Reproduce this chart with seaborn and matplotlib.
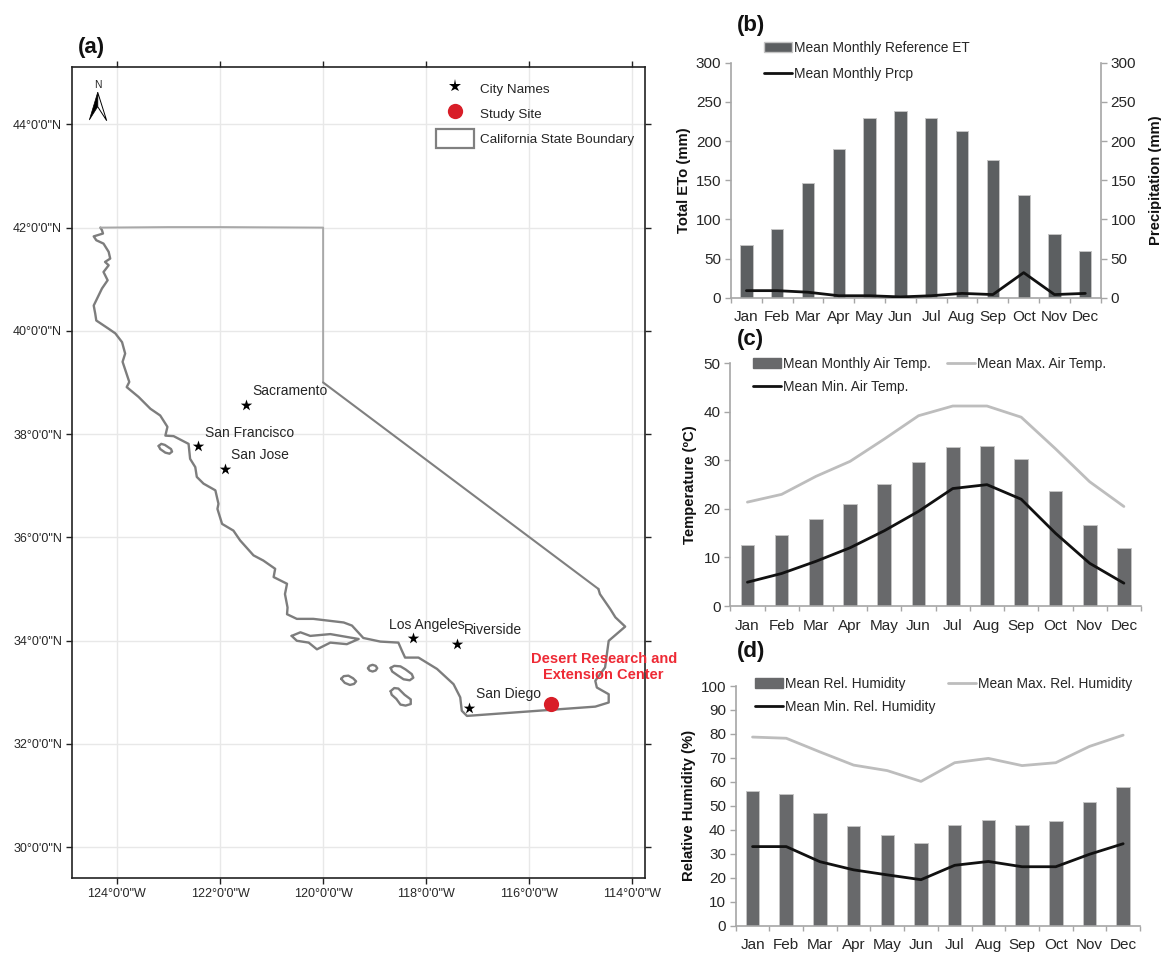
import numpy as np
import pandas as pd
import matplotlib
matplotlib.use('Agg')
import matplotlib.pyplot as plt
import seaborn as sns
from matplotlib.lines import Line2D
from matplotlib.patches import Patch, Polygon

W, H = 1161, 955

months = ['Jan', 'Feb', 'Mar', 'Apr', 'May', 'Jun', 'Jul', 'Aug', 'Sep', 'Oct', 'Nov', 'Dec']

# panel b
eto = [67, 88, 147, 190, 229, 238, 229, 213, 176, 131, 81, 60]
prcp = [9, 9, 7, 2.5, 2.5, 1, 2.5, 5.5, 4, 32, 4, 5.5]

# panel c
temp_mean = [12.5, 14.7, 18, 21.1, 25.2, 29.7, 32.8, 33, 30.2, 23.6, 16.7, 11.9]
temp_max = [21.4, 23, 26.7, 29.8, 34.4, 39.2, 41.2, 41.2, 38.9, 32.4, 25.6, 20.5]
temp_min = [4.9, 6.7, 9.2, 12, 15.5, 19.5, 24.2, 25, 22, 15, 8.8, 4.7]

# panel d
rh_mean = [56, 55, 47.2, 41.5, 38, 34.7, 42, 44.3, 42, 43.8, 51.7, 57.8]
rh_max = [78.7, 78.2, 72.5, 67, 64.7, 60.2, 68, 69.8, 66.8, 68, 74.8, 79.5]
rh_min = [33, 33, 26.7, 23.3, 21.2, 19.2, 25.2, 26.8, 24.6, 24.6, 29.8, 34.2]

# panel a, state outline in degrees
coast_lon = [-124.32, -124.29, -124.27, -124.45, -124.40, -124.26, -124.16, -124.13, -124.23, -124.16,
             -124.26, -124.18, -124.29, -124.45, -124.42, -124.40, -124.16, -124.03, -123.90, -123.84,
             -123.89, -123.76, -123.81, -123.58, -123.35, -123.16, -123.02, -123.06, -122.90, -122.61,
             -122.58, -122.48, -122.45, -122.32, -122.09, -122.03, -122.05, -121.96, -121.74, -121.61,
             -121.35, -121.16, -120.93, -120.96, -120.70, -120.74, -120.69, -120.70, -120.51, -120.19,
             -119.60, -119.44, -119.22, -118.89, -118.54, -118.47, -118.41, -118.15, -117.79, -117.47,
             -117.34, -117.31, -117.21, -114.72, -114.46, -114.46, -114.69, -114.72, -114.53, -114.46,
             -114.14, -114.33, -114.43, -114.63, -114.66]
coast_lat = [42.0, 41.95, 41.885, 41.83, 41.755, 41.69, 41.53, 41.40, 41.335, 41.27,
             41.14, 40.98, 40.82, 40.49, 40.33, 40.20, 40.04, 39.95, 39.78, 39.56,
             39.40, 39.01, 38.91, 38.72, 38.49, 38.36, 38.14, 37.97, 37.96, 37.81,
             37.52, 37.36, 37.17, 37.04, 36.91, 36.65, 36.55, 36.26, 36.13, 35.94,
             35.65, 35.55, 35.39, 35.23, 35.10, 34.90, 34.64, 34.51, 34.42, 34.42,
             34.35, 34.29, 34.05, 33.98, 33.96, 33.80, 33.67, 33.67, 33.45, 33.155,
             32.90, 32.64, 32.54, 32.72, 32.80, 32.96, 33.09, 33.22, 33.48, 33.995,
             34.27, 34.45, 34.61, 34.90, 35.0]
north_lon = [-124.32, -123.0, -122.0, -120.0, -120.0]
north_lat = [42.0, 42.01, 42.01, 42.0, 39.0]
east_lon = [-120.0, -114.66]
east_lat = [39.0, 35.0]

islands = [
    ([-123.19, -123.14, -123.07, -122.95, -122.93, -122.98, -123.06, -123.16, -123.19],
     [37.77, 37.81, 37.79, 37.71, 37.66, 37.62, 37.64, 37.71, 37.77]),
    ([-120.61, -120.44, -120.25, -119.86, -119.31, -119.54, -119.86, -120.12, -120.28, -120.51, -120.61],
     [34.09, 34.16, 34.09, 34.125, 34.03, 33.93, 33.96, 33.83, 33.96, 33.996, 34.09]),
    ([-119.13, -119.10, -119.04, -118.98, -118.95, -118.98, -119.04, -119.10, -119.13],
     [33.465, 33.51, 33.53, 33.51, 33.465, 33.42, 33.40, 33.42, 33.465]),
    ([-119.65, -119.60, -119.51, -119.42, -119.36, -119.40, -119.48, -119.58, -119.65],
     [33.26, 33.31, 33.32, 33.27, 33.21, 33.16, 33.14, 33.18, 33.26]),
    ([-118.69, -118.62, -118.50, -118.40, -118.28, -118.25, -118.32, -118.44, -118.56, -118.66, -118.69],
     [33.47, 33.51, 33.50, 33.44, 33.35, 33.28, 33.23, 33.25, 33.33, 33.40, 33.47]),
    ([-118.69, -118.62, -118.54, -118.42, -118.30, -118.30, -118.40, -118.50, -118.58, -118.67, -118.69],
     [33.02, 33.08, 33.07, 32.95, 32.86, 32.77, 32.74, 32.76, 32.87, 32.95, 33.02]),
]

cities = ['Sacramento', 'San Francisco', 'San Jose', 'Los Angeles', 'Riverside', 'San Diego']
city_lon = [-121.50, -122.43, -121.90, -118.26, -117.40, -117.17]
city_lat = [38.57, 37.76, 37.33, 34.04, 33.93, 32.70]
label_lon = [-121.38, -122.30, -121.78, -118.72, -117.27, -117.04]
label_lat = [38.83, 38.03, 37.60, 34.30, 34.21, 32.97]
site_lon = [-115.575]
site_lat = [32.78]

lon_ticks = [-124, -122, -120, -118, -116, -114]
lat_ticks = [30, 32, 34, 36, 38, 40, 42, 44]

sns.set_theme(style='white')
plt.rcParams['font.family'] = ['Liberation Sans', 'DejaVu Sans']

GREY = '#a6a6a6'
TXT = '#262626'
LEG = 9.9


def fig_xy(px, py):
    return px / W, 1 - py / H


def add_ax(left, top, right, bottom):
    return fig.add_axes([left / W, 1 - bottom / H, (right - left) / W, (bottom - top) / H])


def style_chart(ax, ylim, yticks, ylabel, label_px):
    ax.set_xlim(-0.5, 11.5)
    ax.set_ylim(*ylim)
    ax.set_yticks(yticks)
    ax.set_xticks(np.arange(12))
    ax.set_xticks(np.arange(-0.5, 12, 1), minor=True)
    ax.set_xticklabels(months)
    ax.tick_params(axis='x', which='major', length=0, pad=9, labelsize=11, labelcolor=TXT)
    ax.tick_params(axis='x', which='minor', length=3.5, width=1, color=GREY, bottom=True)
    ax.tick_params(axis='y', length=4, width=1, color=GREY, left=True, pad=3, labelsize=11, labelcolor=TXT)
    for s in ['top', 'right']:
        ax.spines[s].set_visible(False)
    for s in ['left', 'bottom']:
        ax.spines[s].set_color(GREY)
        ax.spines[s].set_linewidth(1.2)
    ax.set_xlabel('')
    ax.set_ylabel(ylabel, fontsize=10.7, fontweight='bold', color='#111111')
    bb = ax.get_position()
    ax.yaxis.set_label_coords((label_px / W - bb.x0) / bb.width, 0.5)


def bars(ax, values, color):
    sns.barplot(x=months, y=values, ax=ax, color=color, width=0.4, saturation=1,
                edgecolor='#c4c4c4', linewidth=0.7)


def line(ax, values, color):
    df = pd.DataFrame({'month': months, 'value': values})
    sns.lineplot(data=df, x='month', y='value', ax=ax, color=color, linewidth=2, sort=False, legend=False)


def outline(ax, lon, lat, color, lw):
    sns.lineplot(x=lon, y=lat, ax=ax, color=color, linewidth=lw, sort=False, estimator=None,
                 solid_joinstyle='round', solid_capstyle='round')


fig = plt.figure(figsize=(W / 100, H / 100), dpi=100)

# (a) map
ax_a = add_ax(71.7, 66.7, 645.3, 878)
outline(ax_a, coast_lon, coast_lat, '#7d7d7d', 1.7)
outline(ax_a, north_lon, north_lat, '#a8a8a8', 1.4)
outline(ax_a, east_lon, east_lat, '#808080', 1.5)
for isl_lon, isl_lat in islands:
    outline(ax_a, isl_lon, isl_lat, '#7d7d7d', 1.7)
sns.scatterplot(x=city_lon, y=city_lat, ax=ax_a, marker='*', s=75, color='black', linewidth=0, zorder=5)
sns.scatterplot(x=site_lon, y=site_lat, ax=ax_a, marker='o', s=120, color='#d81e28', linewidth=0, zorder=5)
for name, x, y in zip(cities, label_lon, label_lat):
    ax_a.text(x, y, name, fontsize=10, color=TXT, va='center', ha='left', zorder=6)
ax_a.text(-114.557, 33.49, 'Desert Research and\nExtension Center', fontsize=10.5, fontweight='bold',
          color='#ee2a35', ha='center', va='center', linespacing=1.15, zorder=6, clip_on=False)
ax_a.set_xlim(-124.877, -113.75)
ax_a.set_ylim(29.4, 45.117)
ax_a.set_xticks(lon_ticks)
ax_a.set_yticks(lat_ticks)
ax_a.set_xticklabels([f"{abs(v)}°0'0\"W" for v in lon_ticks])
ax_a.set_yticklabels([f"{v}°0'0\"N" for v in lat_ticks])
ax_a.grid(True, color='#e8e8e8', linewidth=1)
ax_a.set_axisbelow(True)
ax_a.tick_params(axis='both', length=4, width=1, color='#222222', labelsize=9, labelcolor=TXT, pad=3,
                 top=True, right=True, bottom=True, left=True)
for s in ax_a.spines.values():
    s.set_color('#222222')
    s.set_linewidth(1.2)
ax_a.set_xlabel('')
ax_a.set_ylabel('')
handles_a = [
    Line2D([], [], marker='*', linestyle='none', color='black', markersize=9.5, markeredgewidth=0),
    Line2D([], [], marker='o', linestyle='none', color='#d81e28', markersize=11, markeredgewidth=0),
    Patch(facecolor='white', edgecolor='#808080', linewidth=1.6),
]
x0, y0 = fig_xy(436, 79.5)
ax_a.legend(handles_a, ['City Names', 'Study Site', 'California State Boundary'], loc='upper left',
            bbox_to_anchor=(x0, y0), bbox_transform=fig.transFigure, frameon=False, fontsize=9.7,
            borderpad=0, borderaxespad=0, handlelength=2.8, handleheight=1.79, handletextpad=0.45,
            labelspacing=0.44, labelcolor=TXT)

# north arrow
apex, notch = fig_xy(97.7, 92.3), fig_xy(97.7, 106.7)
left, right = fig_xy(89.3, 120), fig_xy(106.7, 120.7)
fig.add_artist(Polygon([apex, left, notch], closed=True, facecolor='black', edgecolor='black', linewidth=0.5,
                       transform=fig.transFigure))
fig.add_artist(Polygon([apex, right, notch], closed=True, facecolor='white', edgecolor='black', linewidth=0.7,
                       transform=fig.transFigure))
fig.text(*fig_xy(98, 84.5), 'N', fontsize=7.5, color=TXT, ha='center', va='center')

# (b)
ax_b = add_ax(731, 62.7, 1100.7, 297.7)
bars(ax_b, eto, '#5c5f61')
style_chart(ax_b, (0, 300), range(0, 301, 50), 'Total ETo (mm)', 691)
ax_b2 = ax_b.twinx()
line(ax_b2, prcp, '#111111')
ax_b2.set_ylim(0, 300)
ax_b2.set_yticks(range(0, 301, 50))
ax_b2.tick_params(axis='y', length=4, width=1, color=GREY, right=True, pad=3, labelsize=11, labelcolor=TXT)
for s in ['top', 'left', 'bottom']:
    ax_b2.spines[s].set_visible(False)
ax_b2.spines['right'].set_color(GREY)
ax_b2.spines['right'].set_linewidth(1.2)
ax_b2.set_ylabel('Precipitation (mm)', fontsize=10.7, fontweight='bold', color='#111111')
bb = ax_b2.get_position()
ax_b2.yaxis.set_label_coords((1149 / W - bb.x0) / bb.width, 0.5)
ax_b2.set_xlabel('')
x0, y0 = fig_xy(764, 41)
ax_b2.legend([Patch(facecolor='#5c5f61', edgecolor='#c4c4c4'), Line2D([], [], color='#111111', linewidth=2)],
             ['Mean Monthly Reference ET', 'Mean Monthly Prcp'], loc='upper left', bbox_to_anchor=(x0, y0),
             bbox_transform=fig.transFigure, frameon=False, fontsize=LEG, borderpad=0, borderaxespad=0,
             handlelength=2, handletextpad=0.15, labelspacing=0.84, labelcolor=TXT)

# (c)
ax_c = add_ax(730.3, 363.3, 1141, 606)
bars(ax_c, temp_mean, '#68696b')
line(ax_c, temp_max, '#bdbdbd')
line(ax_c, temp_min, '#111111')
style_chart(ax_c, (0, 50), range(0, 51, 10), 'Temperature (ºC)', 697)
x0, y0 = fig_xy(753, 357)
ax_c.legend([Patch(facecolor='#68696b', edgecolor='#68696b'), Line2D([], [], color='#111111', linewidth=2),
             Line2D([], [], color='#bdbdbd', linewidth=2)],
            ['Mean Monthly Air Temp.', 'Mean Min. Air Temp.', 'Mean Max. Air Temp.'], ncol=2, loc='upper left',
            bbox_to_anchor=(x0, y0), bbox_transform=fig.transFigure, frameon=False, fontsize=LEG, borderpad=0,
            borderaxespad=0, handlelength=2, handletextpad=0.15, labelspacing=0.63, columnspacing=1.24,
            labelcolor=TXT)

# (d)
ax_d = add_ax(735.7, 686, 1140, 925.7)
bars(ax_d, rh_mean, '#68696b')
line(ax_d, rh_max, '#bdbdbd')
line(ax_d, rh_min, '#111111')
style_chart(ax_d, (0, 100), range(0, 101, 10), 'Relative Humidity (%)', 696)
x0, y0 = fig_xy(755, 676.5)
ax_d.legend([Patch(facecolor='#68696b', edgecolor='#68696b'), Line2D([], [], color='#111111', linewidth=2),
             Line2D([], [], color='#bdbdbd', linewidth=2)],
            ['Mean Rel. Humidity', 'Mean Min. Rel. Humidity', 'Mean Max. Rel. Humidity'], ncol=2, loc='upper left',
            bbox_to_anchor=(x0, y0), bbox_transform=fig.transFigure, frameon=False, fontsize=LEG, borderpad=0,
            borderaxespad=0, handlelength=2, handletextpad=0.15, labelspacing=0.7, columnspacing=0.95,
            labelcolor=TXT)

# panel letters
for letter, px, py in [('(a)', 78, 47), ('(b)', 737, 26), ('(c)', 737, 340), ('(d)', 737, 652)]:
    fig.text(*fig_xy(px, py), letter, fontsize=16, fontweight='bold', color='#111111', ha='left', va='center')

fig.savefig('out.png', dpi=100)
